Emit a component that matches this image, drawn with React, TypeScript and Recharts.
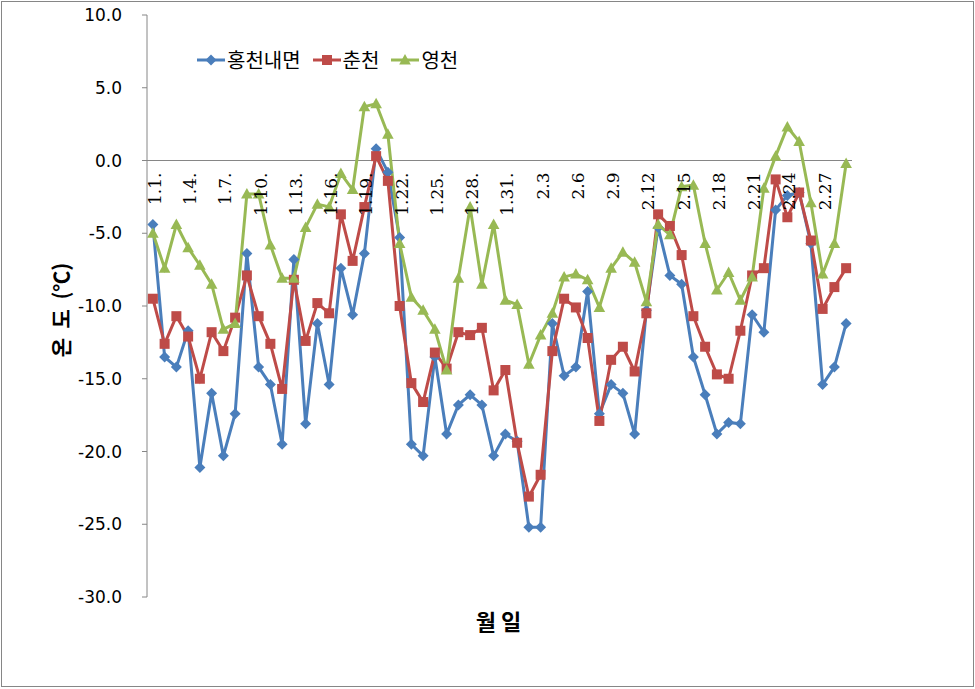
import React from 'react';
import { LineChart, Line, XAxis, YAxis, ReferenceLine, Legend } from 'recharts';

const DATES = [
  '1.1.', '1.2.', '1.3.', '1.4.', '1.5.', '1.6.', '1.7.', '1.8.', '1.9.', '1.10.',
  '1.11.', '1.12.', '1.13.', '1.14.', '1.15.', '1.16.', '1.17.', '1.18.', '1.19.', '1.20.',
  '1.21.', '1.22.', '1.23.', '1.24.', '1.25.', '1.26.', '1.27.', '1.28.', '1.29.', '1.30.',
  '1.31.', '2.1', '2.2', '2.3', '2.4', '2.5', '2.6', '2.7', '2.8', '2.9',
  '2.10', '2.11', '2.12', '2.13', '2.14', '2.15', '2.16', '2.17', '2.18', '2.19',
  '2.20', '2.21', '2.22', '2.23', '2.24', '2.25', '2.26', '2.27', '2.28', '2.29',
];

const HONGCHEON = [
  -4.4, -13.5, -14.2, -11.7, -21.1, -16.0, -20.3, -17.4, -6.4, -14.2,
  -15.4, -19.5, -6.8, -18.1, -11.2, -15.4, -7.4, -10.6, -6.4, 0.8,
  -0.8, -5.3, -19.5, -20.3, -13.5, -18.8, -16.8, -16.1, -16.8, -20.3,
  -18.8, -19.3, -25.2, -25.2, -11.2, -14.8, -14.2, -9.0, -17.4, -15.4,
  -16.0, -18.8, -10.3, -4.6, -7.9, -8.5, -13.5, -16.1, -18.8, -18.0,
  -18.1, -10.6, -11.8, -3.4, -2.4, -2.2, -5.7, -15.4, -14.2, -11.2,
];

const CHUNCHEON = [
  -9.5, -12.6, -10.7, -12.1, -15.0, -11.8, -13.1, -10.8, -7.9, -10.7,
  -12.6, -15.7, -8.2, -12.4, -9.8, -10.5, -3.7, -6.9, -3.2, 0.3,
  -1.4, -10.0, -15.3, -16.6, -13.2, -14.3, -11.8, -12.0, -11.5, -15.8,
  -14.4, -19.4, -23.1, -21.6, -13.1, -9.5, -10.1, -12.2, -17.9, -13.7,
  -12.8, -14.5, -10.5, -3.7, -4.5, -6.5, -10.7, -12.8, -14.7, -15.0,
  -11.7, -7.9, -7.4, -1.3, -3.9, -2.2, -5.5, -10.2, -8.7, -7.4,
];

const YEONGCHEON = [
  -5.0, -7.4, -4.4, -6.0, -7.2, -8.5, -11.6, -11.2, -2.3, -2.3,
  -5.8, -8.1, -8.1, -4.6, -3.0, -3.2, -0.9, -2.0, 3.7, 3.9,
  1.8, -5.7, -9.4, -10.3, -11.6, -14.4, -8.1, -3.2, -8.5, -4.4,
  -9.6, -9.9, -14.0, -12.0, -10.5, -8.0, -7.8, -8.2, -10.1, -7.4,
  -6.3, -7.0, -9.7, -4.4, -5.1, -1.8, -1.7, -5.7, -8.9, -7.7,
  -9.6, -8.0, -1.9, 0.3, 2.3, 1.3, -2.9, -7.8, -5.7, -0.2,
];

const Y_TICKS = [-30, -25, -20, -15, -10, -5, 0, 5, 10];
const Y_MIN = -30;
const Y_MAX = 10;
const LABEL_STEP = 3;

const SERIES = [
  { key: 'hong', name: '홍천내면', color: '#4A7EBB', values: HONGCHEON, marker: 'diamond' },
  { key: 'chun', name: '춘천', color: '#BE4B48', values: CHUNCHEON, marker: 'square' },
  { key: 'yeong', name: '영천', color: '#98B954', values: YEONGCHEON, marker: 'triangle' },
];

const DATA = DATES.map((d, i) => {
  const row: any = { i, d };
  SERIES.forEach((s) => { row[s.key] = s.values[i]; });
  return row;
});

const LABEL_TICKS = DATES.map((_, i) => i).filter((i) => i % LABEL_STEP === 0);
const MARK_TICKS = Array.from({ length: DATES.length + 1 }, (_, k) => k - 0.5);

const W = 975;
const H = 689;
const MARGIN = { top: 15, right: 123, bottom: 52, left: 87 };
const YAXIS_W = 60;
const XAXIS_H = 40;
const PLOT_H = H - MARGIN.top - MARGIN.bottom - XAXIS_H;
const Y0 = MARGIN.top + (PLOT_H * Y_MAX) / (Y_MAX - Y_MIN);
const AXIS_COLOR = '#868686';

function Marker({ type, cx, cy, color }: { type: string; cx: number; cy: number; color: string }) {
  if (type === 'diamond') {
    const r = 5.5;
    return <polygon points={`${cx},${cy - r} ${cx + r},${cy} ${cx},${cy + r} ${cx - r},${cy}`} fill={color} />;
  }
  if (type === 'square') {
    return <rect x={cx - 5} y={cy - 5} width={10} height={10} fill={color} />;
  }
  return <polygon points={`${cx},${cy - 6} ${cx + 5.8},${cy + 4.5} ${cx - 5.8},${cy + 4.5}`} fill={color} />;
}

const makeDot = (type: string, color: string) => (props: any) => {
  const { cx, cy, index } = props;
  if (cx == null || cy == null) return <g key={`e-${index}`} />;
  return (
    <g key={`${type}-${index}`}>
      <Marker type={type} cx={cx} cy={cy} color={color} />
    </g>
  );
};

const DateTick = (props: any) => {
  const { x, payload } = props;
  const label = DATES[payload.value];
  const tx = x + 2;
  const ty = Y0 + 12;
  return (
    <text
      x={tx}
      y={ty}
      transform={`rotate(-90 ${tx} ${ty})`}
      textAnchor="end"
      dominantBaseline="central"
      style={{ fontFamily: "'DejaVu Serif', serif", fontSize: 17 }}
      fill="#000"
    >
      {label}
    </text>
  );
};

const MarkTick = (props: any) => (
  <line x1={props.x} x2={props.x} y1={Y0} y2={Y0 + 5} stroke={AXIS_COLOR} strokeWidth={1} />
);

const YTitle = (props: any) => {
  const vb = props.viewBox || { x: MARGIN.left, y: MARGIN.top, width: YAXIS_W, height: PLOT_H };
  const x = vb.x - 27;
  const y = vb.y + vb.height / 2 + 4;
  return (
    <text
      x={x}
      y={y}
      transform={`rotate(-90 ${x} ${y})`}
      textAnchor="middle"
      dominantBaseline="central"
      style={{ fontFamily: "'Noto Sans CJK KR', sans-serif", fontWeight: 'bold', fontSize: 21 }}
      fill="#000"
    >
      {'온\u00a0\u00a0도\u00a0\u00a0(℃)'}
    </text>
  );
};

const XTitle = (props: any) => {
  const vb = props.viewBox || { x: MARGIN.left + YAXIS_W, y: MARGIN.top + PLOT_H, width: 705, height: XAXIS_H };
  const x = vb.x + vb.width / 2 - 1;
  const y = vb.y + 23;
  return (
    <text
      x={x}
      y={y}
      textAnchor="middle"
      dominantBaseline="central"
      style={{ fontFamily: "'Noto Sans CJK KR', sans-serif", fontWeight: 'bold', fontSize: 22 }}
      fill="#000"
    >
      {'월\u00a0일'}
    </text>
  );
};

const LegendContent = () => (
  <div
    style={{
      display: 'flex',
      alignItems: 'center',
      fontFamily: "'Noto Sans CJK KR', sans-serif",
      fontSize: 20,
      lineHeight: '24px',
      color: '#000',
      whiteSpace: 'nowrap',
    }}
  >
    {SERIES.map((s) => (
      <div key={s.key} style={{ display: 'flex', alignItems: 'center', marginRight: 12 }}>
        <svg width={28} height={14} style={{ display: 'block' }}>
          <line x1={0} y1={7} x2={28} y2={7} stroke={s.color} strokeWidth={3} />
          <Marker type={s.marker} cx={14} cy={7} color={s.color} />
        </svg>
        <span style={{ marginLeft: 2 }}>{s.name}</span>
      </div>
    ))}
  </div>
);

export default function App() {
  return (
    <div style={{ position: 'relative', width: W, height: H, background: '#fff' }}>
      <style>{'body{margin:0;}'}</style>
      <div
        style={{
          position: 'absolute',
          left: 1,
          top: 1,
          width: 973,
          height: 686,
          boxSizing: 'border-box',
          border: `1px solid ${AXIS_COLOR}`,
          pointerEvents: 'none',
        }}
      />
      <LineChart width={W} height={H} data={DATA} margin={MARGIN}>
        <XAxis
          dataKey="i"
          type="number"
          domain={[-0.5, DATES.length - 0.5]}
          ticks={LABEL_TICKS}
          interval={0}
          height={XAXIS_H}
          axisLine={false}
          tickLine={false}
          tick={<DateTick />}
          label={XTitle}
        />
        <XAxis
          xAxisId="marks"
          dataKey="i"
          type="number"
          orientation="top"
          domain={[-0.5, DATES.length - 0.5]}
          ticks={MARK_TICKS}
          interval={0}
          height={0}
          axisLine={false}
          tickLine={false}
          tick={<MarkTick />}
        />
        <YAxis
          type="number"
          domain={[Y_MIN, Y_MAX]}
          ticks={Y_TICKS}
          interval={0}
          width={YAXIS_W}
          axisLine={{ stroke: AXIS_COLOR }}
          tickLine={{ stroke: AXIS_COLOR }}
          tickSize={5}
          tickMargin={20}
          tickFormatter={(v: number) => v.toFixed(1)}
          tick={{ fill: '#000', fontSize: 17, fontFamily: "'DejaVu Sans', sans-serif" }}
          label={YTitle}
        />
        <ReferenceLine y={0} stroke={AXIS_COLOR} strokeWidth={1} ifOverflow="extendDomain" />
        <Legend
          layout="horizontal"
          verticalAlign="middle"
          align="center"
          content={<LegendContent />}
          wrapperStyle={{ position: 'absolute', left: 197, top: 48, width: 'auto', height: 'auto' }}
        />
        {SERIES.map((s) => (
          <Line
            key={s.key}
            type="linear"
            dataKey={s.key}
            name={s.name}
            stroke={s.color}
            strokeWidth={3}
            dot={makeDot(s.marker, s.color)}
            activeDot={false}
            isAnimationActive={false}
          />
        ))}
      </LineChart>
    </div>
  );
}
